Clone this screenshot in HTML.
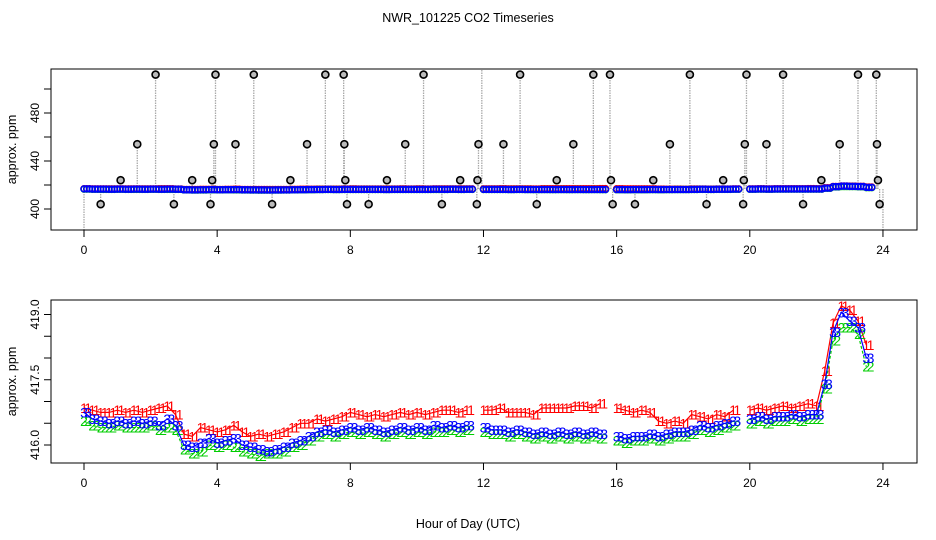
<!DOCTYPE html>
<html><head><meta charset="utf-8"><style>
html,body{margin:0;padding:0;background:#fff}
svg{display:block}
text{font-family:"Liberation Sans",sans-serif}
</style></head><body>
<svg id="chart" width="936" height="540" viewBox="0 0 936 540" xmlns="http://www.w3.org/2000/svg">
<rect width="936" height="540" fill="#fff"/>
<text x="468" y="22" text-anchor="middle" font-size="12.5">NWR_101225  CO2 Timeseries</text>
<g id="topPanel"></g>
<g id="botPanel"></g>
<text x="468" y="528" text-anchor="middle" font-size="12.5">Hour of Day (UTC)</text>
</svg>
<script>
const xTicks=[0,4,8,12,16,20,24];
const topYTicks=[400,420,440,460,480,500];
const topYLabels=["400","","440","","480",""];
const botYTicks=[416.0,416.5,417.0,417.5,418.0,418.5,419.0];
const botYLabels=["416.0","","","417.5","","","419.0"];
const series1=[416.85,416.8,416.75,416.75,416.8,416.75,416.8,416.75,416.8,416.85,416.9,416.7,416.25,416.2,416.4,416.35,416.3,416.35,416.45,416.3,416.2,416.25,416.2,416.25,416.3,416.4,416.5,416.5,416.6,416.55,416.6,416.65,416.75,416.7,416.65,416.7,416.65,416.7,416.75,416.7,416.75,416.7,416.75,416.8,416.8,416.75,416.8,null,416.8,416.8,416.85,416.75,416.75,416.75,416.7,416.85,416.85,416.85,416.85,416.9,416.9,416.85,416.95,null,416.85,416.8,416.75,416.8,416.75,416.55,416.5,416.55,416.5,416.7,416.65,416.6,416.7,416.65,416.8,null,416.8,416.85,416.8,416.85,416.9,416.85,416.9,416.95,416.9,417.7,418.8,419.2,419.1,418.85,418.3,null];
const series2=[416.55,416.45,416.4,416.4,416.45,416.4,416.4,416.4,416.45,416.35,416.4,416.35,415.9,415.8,415.85,416.0,415.95,416.0,415.95,415.85,415.8,415.75,415.8,415.8,415.85,415.95,416.0,416.1,416.2,416.25,416.2,416.25,416.3,416.25,416.3,416.25,416.2,416.25,416.3,416.25,416.3,416.25,416.3,416.3,416.35,416.3,416.35,null,416.3,416.25,416.25,416.2,416.25,416.2,416.15,416.2,416.15,416.2,416.15,416.2,416.15,416.2,416.15,null,416.1,416.05,416.1,416.1,416.15,416.1,416.15,416.2,416.2,416.25,416.35,416.3,416.35,416.4,416.45,null,416.5,416.55,416.5,416.55,416.55,416.6,416.55,416.6,416.6,417.3,418.4,418.7,418.7,418.55,417.8,null];
const series3=[416.75,416.6,416.55,416.5,416.55,416.5,416.55,416.5,416.55,416.45,416.6,416.45,416.0,415.95,416.05,416.15,416.05,416.1,416.15,416.0,415.95,415.9,415.85,415.9,415.95,416.05,416.1,416.2,416.3,416.35,416.3,416.35,416.4,416.35,416.4,416.35,416.3,416.35,416.4,416.35,416.4,416.35,416.45,416.4,416.45,416.4,416.45,null,416.4,416.35,416.35,416.3,416.35,416.3,416.25,416.3,416.25,416.3,416.25,416.3,416.25,416.3,416.25,null,416.2,416.15,416.2,416.2,416.25,416.2,416.25,416.3,416.3,416.35,416.45,416.4,416.45,416.5,416.55,null,416.6,416.65,416.6,416.65,416.65,416.7,416.65,416.7,416.7,417.4,418.6,419.05,418.85,418.7,418.0,null];
const rawHours=[0.0,0.5,1.1,1.6,2.15,2.7,3.25,3.8,3.85,3.9,3.95,4.55,5.1,5.65,6.2,6.7,7.25,7.8,7.82,7.85,7.9,8.55,9.1,9.65,10.2,10.75,11.3,11.8,11.82,11.85,11.95,12.6,13.1,13.6,14.2,14.7,15.3,15.8,15.83,15.88,16.55,17.1,17.6,18.2,18.7,19.2,19.8,19.82,19.85,19.9,20.5,21.0,21.6,22.15,22.7,23.25,23.8,23.82,23.85,23.9,24.0];
const rawValues=[378,404,424,454,512,404,424,404,424,454,512,454,512,404,424,454,512,512,454,424,404,404,424,454,512,404,424,404,424,454,520,454,512,404,424,454,512,512,424,404,404,424,454,512,404,424,404,424,454,512,454,512,404,424,454,512,512,454,424,404,378];
const NS="http://www.w3.org/2000/svg";
function mk(tag,attrs,parent){const e=document.createElementNS(NS,tag);for(const k in attrs)e.setAttribute(k,attrs[k]);parent.appendChild(e);return e;}
const PL=51,PR=917,xs=h=>84+h*33.29;
const tY=v=>209-(v-400)*1.2, bY=v=>445-(v-416)*43.5;
const times=series1.map((_,i)=>i*0.25);
function axes(g,yTop,yBot,yf,ticks,labels){
  const box=mk('rect',{x:PL,y:yTop,width:PR-PL,height:yBot-yTop,fill:'none',stroke:'#000','stroke-width':1},g);
  
  
  xTicks.forEach(t=>{
    const ln=mk('line',{x1:xs(t),x2:xs(t),y1:yBot,y2:yBot+7,stroke:'#000'},g);
    
    
    const tx=mk('text',{x:xs(t),y:yBot+24,'text-anchor':'middle','font-size':12},g);
    
    
    tx.textContent=t;
  });
  ticks.forEach((t,i)=>{
    const y=yf(t);
    const ln=mk('line',{x1:PL-7,x2:PL,y1:y,y2:y,stroke:'#000'},g);
    
    
    if(labels[i]){
      const tx=mk('text',{x:0,y:0,'text-anchor':'middle','font-size':12,transform:`translate(${PL-12},${y}) rotate(-90)`},g);
      
      
      tx.textContent=labels[i];
    }
  });
  const yt=mk('text',{x:0,y:0,'text-anchor':'middle','font-size':12.5,transform:`translate(16,${(yTop+yBot)/2}) rotate(-90)`},g);
  
  
  yt.textContent='approx. ppm';
}
const topG=document.getElementById('topPanel'),botG=document.getElementById('botPanel');
const base=416.7;
rawHours.forEach((h,i)=>{
  const v=rawValues[i];
  const ln=mk('line',{x1:xs(h),x2:xs(h),y1:Math.min(tY(base),230),y2:Math.min(Math.max(tY(v),69),230),stroke:'#aaa','stroke-dasharray':'1.5,1','stroke-width':1.3},topG);
  
  
});
const colors=['#f00','#00cd00','#00f'];
[series1,series2,series3].forEach((s,k)=>{
  s.forEach((v,i)=>{
    if(v===null)return;
    for(let j=0;j<3;j++){
      const c=mk('circle',{cx:xs(times[i]+j*0.083),cy:tY(v),r:3,fill:'none',stroke:colors[k],'stroke-width':1.5},topG);
      
      
    }
  });
});
rawHours.forEach((h,i)=>{
  const v=rawValues[i];
  if(tY(v)<69||tY(v)>228)return;
  const c=mk('circle',{cx:xs(h),cy:tY(v),r:3.5,fill:'#bbb',stroke:'#000','stroke-width':1.6},topG);
  
  
});
axes(topG,69,230,tY,topYTicks,topYLabels);
const chars=['1','2','3'];
const dashes=['','3,2',''];
[series1,series2,series3].forEach((s,k)=>{
  let seg=[];
  const segs=[];
  s.forEach((v,i)=>{ if(v===null){if(seg.length)segs.push(seg);seg=[];} else seg.push(xs(times[i]).toFixed(1)+','+bY(v).toFixed(1)); });
  if(seg.length)segs.push(seg);
  segs.forEach(p=>{
    const pl=mk('polyline',{points:p.join(' '),fill:'none',stroke:colors[k],'stroke-width':1.2,'stroke-dasharray':dashes[k]},botG);
    
    
  });
  s.forEach((v,i)=>{
    if(v===null)return;
    for(let j=0;j<2;j++){
      const t=mk('text',{x:xs(times[i]+j*0.125),y:bY(v)+5,'text-anchor':'middle','font-size':14,fill:colors[k]},botG);
      
      
      t.textContent=chars[k];
    }
  });
});
axes(botG,300,463,bY,botYTicks,botYLabels);
</script>
</body></html>
